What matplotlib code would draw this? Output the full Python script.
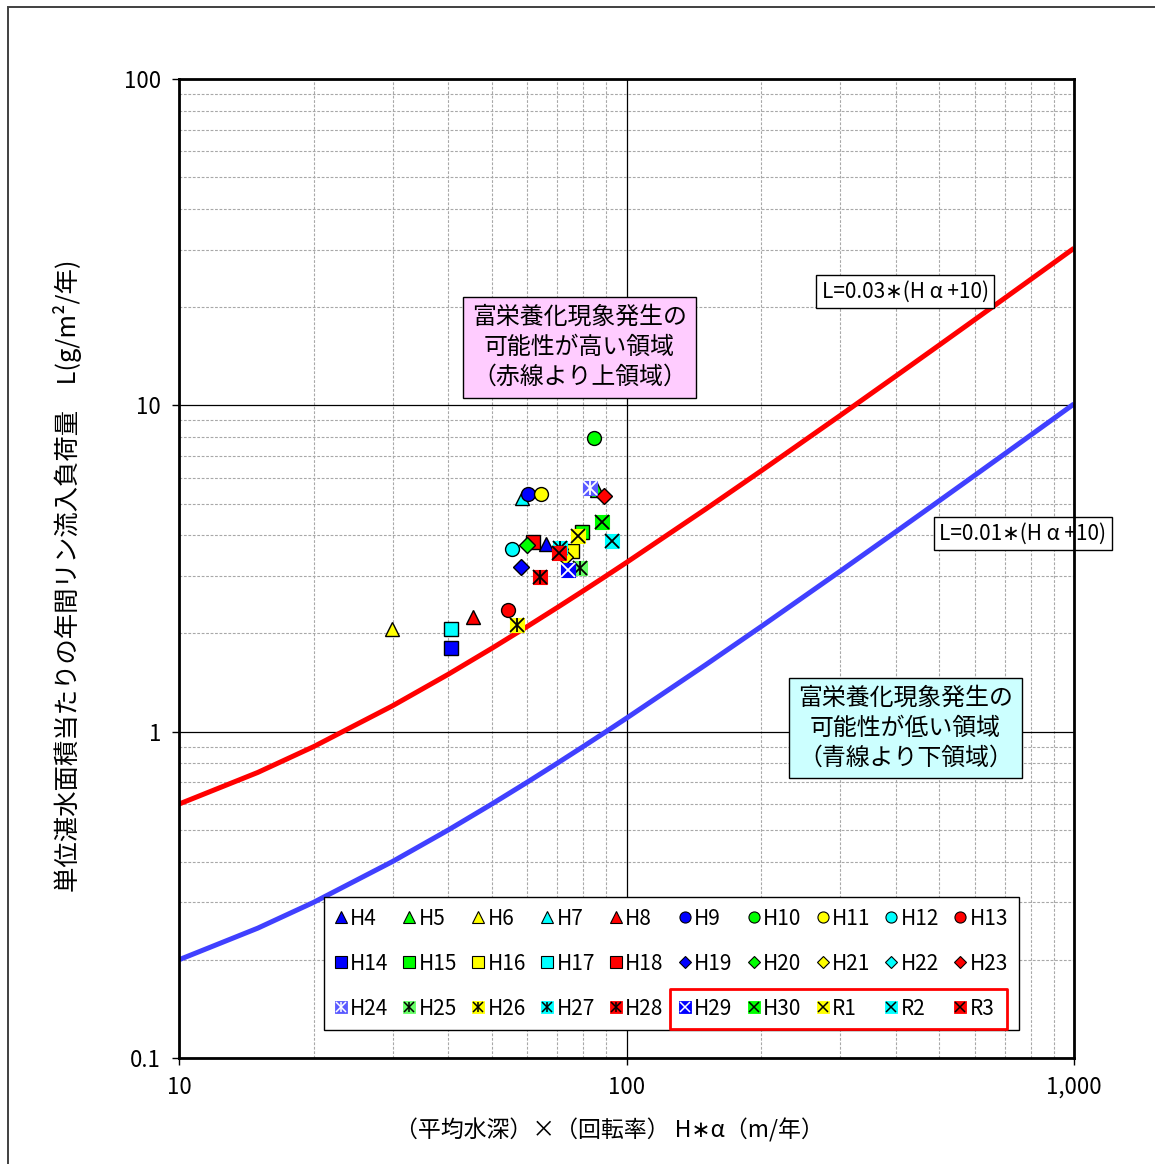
import matplotlib
matplotlib.use("Agg")
import matplotlib.pyplot as plt
import numpy as np
from matplotlib.lines import Line2D
from matplotlib.patches import Rectangle

plt.rcParams['font.family'] = ['Noto Sans CJK JP', 'DejaVu Sans']

# ---- data -------------------------------------------------------------
series = ["H4", "H5", "H6", "H7", "H8",
          "H9", "H10", "H11", "H12", "H13",
          "H14", "H15", "H16", "H17", "H18",
          "H19", "H20", "H21", "H22", "H23",
          "H24", "H25", "H26", "H27", "H28",
          "H29", "H30", "R1", "R2", "R3"]

# (mean depth) x (flushing rate)  H*alpha [m/yr]
h_alpha = [66.0, 85.8, 29.9, 58.5, 45.5,
           60.1, 84.7, 64.3, 55.4, 54.4,
           40.6, 79.4, 75.4, 40.6, 61.9,
           58.0, 60.0, 72.9, 71.2, 89.2,
           82.9, 78.7, 56.8, 71.0, 64.1,
           74.1, 88.0, 78.0, 92.7, 70.6]

# annual phosphorus load per unit area  L [g/m2/yr]
p_load = [3.76, 5.50, 2.06, 5.20, 2.24,
          5.34, 7.93, 5.35, 3.62, 2.36,
          1.80, 4.10, 3.59, 2.07, 3.82,
          3.19, 3.73, 3.42, 3.62, 5.28,
          5.57, 3.18, 2.13, 3.65, 2.97,
          3.13, 4.38, 3.99, 3.84, 3.54]

x_ticks = [10, 100, 1000]
x_tick_labels = ["10", "100", "1,000"]
y_ticks = [0.1, 1, 10, 100]
y_tick_labels = ["0.1", "1", "10", "100"]

coef_high = 0.03   # L = 0.03*(H*alpha + 10)
coef_low = 0.01    # L = 0.01*(H*alpha + 10)
curve_x = [10, 15, 20, 30, 40, 50, 60, 70, 80, 90, 100,
           150, 200, 300, 400, 500, 600, 700, 800, 900, 1000]

# ---- styles -----------------------------------------------------------
BLUE, GREEN, YELLOW, CYAN, RED = "#0000FF", "#00FF00", "#FFFF00", "#00FFFF", "#FF0000"
group_colors = [BLUE, GREEN, YELLOW, CYAN, RED]
group_kinds = ["^", "o", "s", "D", "ast", "x"]
ast_colors = ["#5A5AFF", "#66FF66", YELLOW, CYAN, RED]


def style_for(i):
    kind = group_kinds[i // 5]
    j = i % 5
    if kind == "ast":
        return kind, ast_colors[j], ("white" if j == 0 else "black")
    if kind == "x":
        return kind, group_colors[j], ("white" if j == 0 else "black")
    return kind, group_colors[j], "black"


def symbol_lines(kind):
    # boxed symbols: an "x" alone, or an "x" with a vertical stroke
    return ["x", "|"] if kind == "ast" else ["x"]


def make_artists(ax, x, y, i, ms):
    kind, fc, sym = style_for(i)
    z = 5 + i * 0.01
    if kind in ("ast", "x"):
        ax.plot(x, y, ls="none", marker="s", ms=ms, mfc=fc, mec=fc, mew=0.8, zorder=z)
        for m in symbol_lines(kind):
            ax.plot(x, y, ls="none", marker=m, ms=ms * 0.95, mec=sym,
                    mew=1.3, zorder=z + 0.005)
    else:
        size = ms * (0.8 if kind == "D" else 1.0)
        ax.plot(x, y, ls="none", marker=kind, ms=size, mfc=fc,
                mec="black", mew=1.0, zorder=z)


def legend_handle(i, ms):
    kind, fc, sym = style_for(i)
    if kind in ("ast", "x"):
        parts = [Line2D([], [], ls="none", marker="s", ms=ms, mfc=fc, mec=fc, mew=0.6)]
        for m in symbol_lines(kind):
            parts.append(Line2D([], [], ls="none", marker=m, ms=ms * 0.95,
                                mec=sym, mew=1.1))
        return tuple(parts)
    size = ms * (0.8 if kind == "D" else 1.0)
    return Line2D([], [], ls="none", marker=kind, ms=size, mfc=fc, mec="black", mew=0.8)


# ---- figure -----------------------------------------------------------
W, H = 1155, 1164
fig = plt.figure(figsize=(W / 100, H / 100), dpi=100)
fig.patch.set_facecolor("white")
ax = fig.add_axes([179 / W, 1 - 1058 / H, (1074 - 179) / W, (1058 - 79) / H])

ax.set_xscale("log")
ax.set_yscale("log")
ax.set_xlim(10, 1000)
ax.set_ylim(0.1, 100)

ax.set_xticks(x_ticks)
ax.set_xticklabels(x_tick_labels)
ax.set_yticks(y_ticks)
ax.set_yticklabels(y_tick_labels)
ax.tick_params(which="major", direction="out", length=5, width=1, labelsize=16, pad=8)
ax.tick_params(which="minor", length=0)
for s in ax.spines.values():
    s.set_linewidth(2.0)
    s.set_zorder(10)

ax.grid(which="minor", color="#a8a8a8", ls=(0, (2.5, 1.5)), lw=0.8, zorder=0)
ax.grid(which="major", color="black", ls="-", lw=0.9, zorder=0.5)
ax.set_axisbelow(True)

# threshold curves
cx = np.array(curve_x, dtype=float)
ax.plot(cx, coef_high * (cx + 10), color=RED, lw=3.6, zorder=3, solid_capstyle="butt")
ax.plot(cx, coef_low * (cx + 10), color="#4040FF", lw=3.6, zorder=3, solid_capstyle="butt")

# observations
for i in range(len(series)):
    make_artists(ax, [h_alpha[i]], [p_load[i]], i, ms=10)

# region annotations
ax.text(0.4475, 0.7257, "富栄養化現象発生の\n可能性が高い領域\n（赤線より上領域）",
        transform=ax.transAxes, ha="center", va="center", fontsize=17.2,
        linespacing=1.38, zorder=8,
        bbox=dict(boxstyle="square,pad=0.38", fc="#FFCCFF", ec="black", lw=1.0))
ax.text(0.8117, 0.3371, "富栄養化現象発生の\n可能性が低い領域\n（青線より下領域）",
        transform=ax.transAxes, ha="center", va="center", fontsize=17.2,
        linespacing=1.38, zorder=8,
        bbox=dict(boxstyle="square,pad=0.38", fc="#CCFFFF", ec="black", lw=1.0))

ax.text(0.8112, 0.7829, "L=0.03∗(H α +10)", transform=ax.transAxes,
        ha="center", va="center", fontsize=15, zorder=8, clip_on=False,
        bbox=dict(boxstyle="square,pad=0.25", fc="white", ec="black", lw=1.0))
ax.text(0.943, 0.5358, "L=0.01∗(H α +10)", transform=ax.transAxes,
        ha="center", va="center", fontsize=15, zorder=8, clip_on=False,
        bbox=dict(boxstyle="square,pad=0.25", fc="white", ec="black", lw=1.0))

# legend: 3 rows x 10 columns, filled row by row
handles = [legend_handle(i, 8) for i in range(len(series))]
ncol, nrow = 10, 3
order = [r * ncol + c for c in range(ncol) for r in range(nrow)]
leg = ax.legend([handles[k] for k in order], [series[k] for k in order],
                ncol=ncol, loc="lower left", bbox_to_anchor=(0.162, 0.0286),
                fontsize=15, frameon=True, fancybox=False, edgecolor="black",
                framealpha=1, handlelength=0.6, handletextpad=0.15,
                columnspacing=0.71, labelspacing=1.1, borderpad=0.5,
                borderaxespad=0)
leg.get_frame().set_linewidth(1.0)
leg.set_zorder(9)

# axis labels
fig.text(609 / W, 1 - 1130 / H, "（平均水深）×（回転率） H∗α（m/年）",
         ha="center", va="center", fontsize=16.5)
fig.text(68 / W, 1 - 576 / H, "単位湛水面積当たりの年間リン流入負荷量　L(g/m²/年)",
         ha="center", va="center", rotation=90, fontsize=18.3)

# outer frame
fig.patches.append(Rectangle((8 / W, -0.01), 1.0, 1 - 7 / H + 0.01,
                             transform=fig.transFigure, fill=False,
                             ec="#404040", lw=1.4))

# highlight the latest five entries of the legend
fig.canvas.draw()
renderer = fig.canvas.get_renderer()
texts = {t.get_text(): t for t in leg.get_texts()}
b_first = texts["H29"].get_window_extent(renderer)
b_last = texts["R3"].get_window_extent(renderer)
fs_px = 15 * 100 / 72
x0 = b_first.x0 - (0.6 + 0.15) * fs_px - 9
x1 = b_last.x1 + 12
yc = (b_first.y0 + b_first.y1) / 2
y0, y1 = yc - 20, yc + 20
fig.patches.append(Rectangle((x0 / W, y0 / H), (x1 - x0) / W, (y1 - y0) / H,
                             transform=fig.transFigure, fill=False,
                             ec=RED, lw=2.0, joinstyle="round", zorder=20))

fig.savefig("out.png", dpi=100)
